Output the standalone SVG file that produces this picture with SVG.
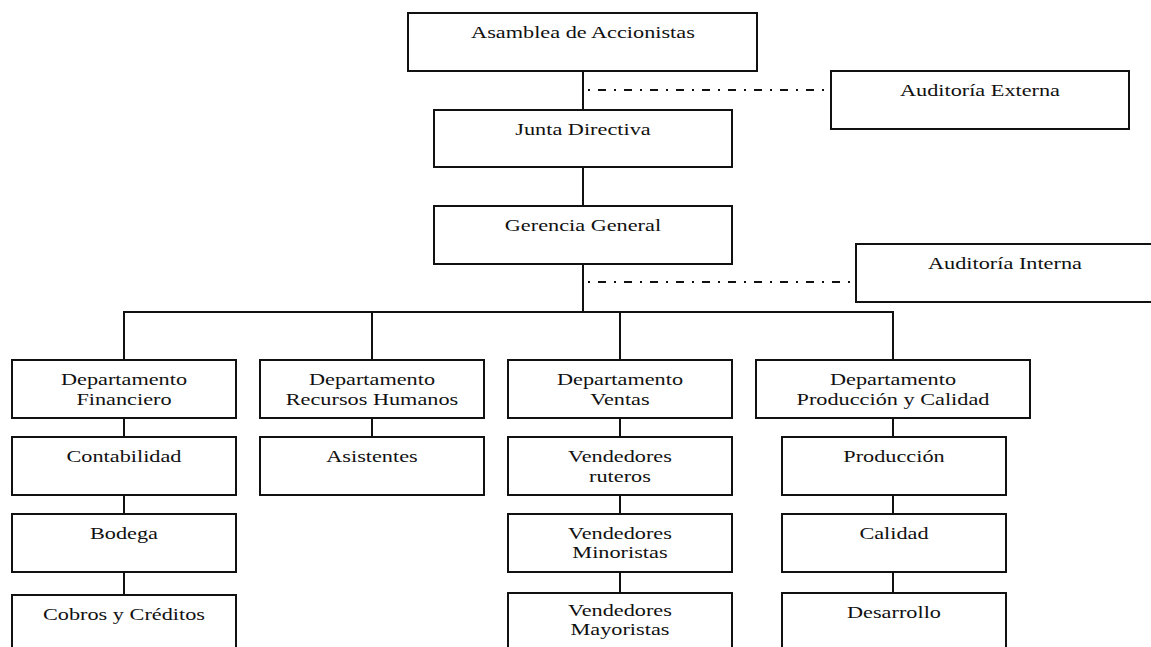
<svg xmlns="http://www.w3.org/2000/svg" width="1151" height="647" viewBox="0 0 1151 647">
  <style>
    .box { fill: #fff; stroke: #111; stroke-width: 2; }
    .ln { fill: none; stroke: #111; stroke-width: 2; }
    .dd { fill: none; stroke: #111; stroke-width: 2; stroke-dasharray: 2 8 8 8; }
    text { font-family: "Liberation Serif", "Times New Roman", serif; font-size: 17.4px; fill: #111; text-anchor: middle;
           transform-box: fill-box; transform-origin: center; transform: scaleX(1.28); }
  </style>
  <rect width="1151" height="647" fill="#fff"/>

  <g id="connectors">
    <path class="ln" d="M583 71V110M583 167V206M583 264V312"/>
    <path class="ln" d="M124 312H893M124 311V360M372 311V360M620 311V360M893 311V360"/>
    <path class="ln" d="M124 418V437M124 495V514M124 572V595"/>
    <path class="ln" d="M372 418V437"/>
    <path class="ln" d="M620 418V437M620 495V514M620 572V593"/>
    <path class="ln" d="M893 418V437M893 495V514M893 572V593"/>
    <path class="dd" d="M588 90H831"/>
    <path class="dd" d="M588 282H856"/>
  </g>

  <g id="asamblea"><rect class="box" x="408" y="13" width="349" height="58"/><text x="583" y="38">Asamblea de Accionistas</text></g>
  <g id="auditoria-externa"><rect class="box" x="831" y="71" width="298" height="58"/><text x="980" y="96">Auditoría Externa</text></g>
  <g id="junta"><rect class="box" x="434" y="110" width="298" height="57"/><text x="583" y="135">Junta Directiva</text></g>
  <g id="gerencia"><rect class="box" x="434" y="206" width="298" height="58"/><text x="583" y="231">Gerencia General</text></g>
  <g id="auditoria-interna"><rect class="box" x="856" y="244" width="298" height="58"/><text x="1005" y="269">Auditoría Interna</text></g>

  <g id="dep-financiero"><rect class="box" x="12" y="360" width="224" height="58"/><text x="124" y="385">Departamento</text><text x="124" y="405">Financiero</text></g>
  <g id="dep-rrhh"><rect class="box" x="260" y="360" width="224" height="58"/><text x="372" y="385">Departamento</text><text x="372" y="405">Recursos Humanos</text></g>
  <g id="dep-ventas"><rect class="box" x="508" y="360" width="224" height="58"/><text x="620" y="385">Departamento</text><text x="620" y="405">Ventas</text></g>
  <g id="dep-produccion"><rect class="box" x="756" y="360" width="274" height="58"/><text x="893" y="385">Departamento</text><text x="893" y="405">Producción y Calidad</text></g>

  <g id="contabilidad"><rect class="box" x="12" y="437" width="224" height="58"/><text x="124" y="462">Contabilidad</text></g>
  <g id="bodega"><rect class="box" x="12" y="514" width="224" height="58"/><text x="124" y="539">Bodega</text></g>
  <g id="cobros"><rect class="box" x="12" y="595" width="224" height="60"/><text x="124" y="620">Cobros y Créditos</text></g>

  <g id="asistentes"><rect class="box" x="260" y="437" width="224" height="58"/><text x="372" y="462">Asistentes</text></g>

  <g id="vend-ruteros"><rect class="box" x="508" y="437" width="224" height="58"/><text x="620" y="462">Vendedores</text><text x="620" y="482">ruteros</text></g>
  <g id="vend-minoristas"><rect class="box" x="508" y="514" width="224" height="58"/><text x="620" y="539">Vendedores</text><text x="620" y="558">Minoristas</text></g>
  <g id="vend-mayoristas"><rect class="box" x="508" y="593" width="224" height="62"/><text x="620" y="616">Vendedores</text><text x="620" y="635">Mayoristas</text></g>

  <g id="produccion"><rect class="box" x="782" y="437" width="224" height="58"/><text x="894" y="462">Producción</text></g>
  <g id="calidad"><rect class="box" x="782" y="514" width="224" height="58"/><text x="894" y="539">Calidad</text></g>
  <g id="desarrollo"><rect class="box" x="782" y="593" width="224" height="62"/><text x="894" y="618">Desarrollo</text></g>
</svg>
